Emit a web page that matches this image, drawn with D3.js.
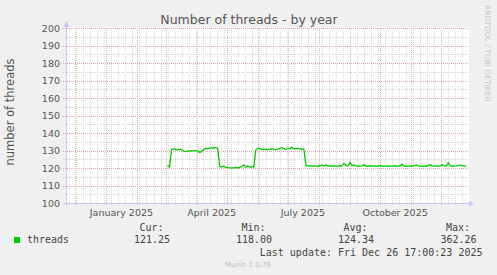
<!DOCTYPE html>
<html>
<head>
<meta charset="utf-8">
<script src="https://cdn.jsdelivr.net/npm/d3@7"></script>
<style>
  body { margin: 0; background: #f0f0f0; }
  svg { display: block; }
</style>
</head>
<body>
<div id="chart"></div>
<script>
const svgwidth = 497;
const svgheight = 275;

// time window of the graph (400 days up to last update)
var startTime = new Date(2024, 10, 21, 17, 0);
var endTime = new Date(2025, 11, 26, 17, 0);

// first sample and spacing of the samples below
var firstSample = new Date(2025, 2, 3);
var stepDays = 2;

// number of threads, one value every 2 days
var threads = [
  121.4, 120.5, 130.6, 131.0, 130.6, 130.2, 130.8, 130.5, 129.6, 129.4,
  129.8, 129.6, 129.9, 129.7, 130.1, 129.8, 128.9, 129.5, 130.6, 131.2,
  131.0, 131.4, 131.6, 131.3, 131.8, 131.2, 121.0, 120.6, 121.2, 120.4,
  120.2, 120.1, 120.0, 120.1, 120.3, 120.0, 120.3, 121.0, 121.8, 120.5,
  121.3, 120.4, 120.8, 120.5, 130.2, 131.3, 131.0, 130.8, 130.6, 130.6,
  130.5, 130.8, 131.0, 130.6, 130.5, 130.8, 131.0, 131.7, 131.0, 130.7,
  131.2, 131.0, 131.8, 131.0, 130.9, 131.3, 130.8, 130.9, 130.7, 121.6,
  121.1, 121.3, 121.0, 121.2, 121.1, 121.0, 121.3, 121.8, 121.2, 121.7,
  121.1, 121.3, 121.0, 121.2, 121.1, 121.0, 121.3, 121.2, 122.6, 121.3,
  121.1, 123.2, 121.4, 121.8, 121.2, 121.0, 121.1, 121.2, 121.8, 121.1,
  121.0, 121.3, 121.1, 121.2, 121.0, 121.1, 121.3, 121.0, 121.2, 121.1,
  121.0, 121.2, 121.1, 121.3, 121.0, 121.1, 121.4, 122.1, 121.2, 121.0,
  121.1, 121.2, 121.0, 121.3, 121.8, 121.2, 121.0, 121.1, 121.2, 121.0,
  121.5, 121.9, 121.2, 121.1, 121.3, 121.0, 121.2, 121.9, 121.3, 121.1,
  123.0, 121.2, 121.0, 121.1, 121.2, 121.4, 121.8, 121.2, 121.1, 121.25
];

// axis labels
var yTicks = [100, 110, 120, 130, 140, 150, 160, 170, 180, 190, 200];
var xLabels = ["January 2025", "April 2025", "July 2025", "October 2025"];
var xLabelDates = [new Date(2025, 0, 16), new Date(2025, 3, 16), new Date(2025, 6, 16), new Date(2025, 9, 16)];

// legend
var legendHeads = ["Cur:", "Min:", "Avg:", "Max:"];
var legendValues = ["121.25", "118.00", "124.34", "362.26"];
var lastUpdate = "Last update: Fri Dec 26 17:00:23 2025";

var margin = {top: 28, right: 30, bottom: 72, left: 66};
var width = svgwidth - margin.left - margin.right;
var height = svgheight - margin.top - margin.bottom;

var svg = d3.select("#chart")
  .append("svg")
  .attr("width", svgwidth)
  .attr("height", svgheight)
  .style("font-family", "'DejaVu Sans', sans-serif");

var x = d3.scaleTime()
  .domain([startTime, endTime])
  .range([margin.left, margin.left + width]);

var y = d3.scaleLinear()
  .domain([100, 200])
  .range([margin.top + height, margin.top]);

var px = v => Math.round(v) + 0.5;
var x0 = margin.left, x1 = margin.left + width + 1;
var yTop = margin.top, yBot = margin.top + height;

// plot background
svg.append("rect")
  .attr("x", x0)
  .attr("y", yTop - 1)
  .attr("width", x1 - x0 + 1)
  .attr("height", yBot - yTop + 1)
  .attr("fill", "#ffffff");

var grid = svg.append("g").attr("shape-rendering", "crispEdges");

// minor grid: every 5 threads and every week
var minorY = y.ticks(20).filter(v => yTicks.indexOf(v) < 0);
grid.selectAll(".hminor")
  .data(minorY)
  .enter()
  .append("line")
  .attr("x1", x0 - 3).attr("x2", x1)
  .attr("y1", d => px(y(d))).attr("y2", d => px(y(d)))
  .attr("stroke", "#d2d2d2")
  .attr("stroke-dasharray", "1,1");

grid.selectAll(".vminor")
  .data(d3.timeMonday.range(startTime, endTime))
  .enter()
  .append("line")
  .attr("x1", d => px(x(d))).attr("x2", d => px(x(d)))
  .attr("y1", yTop).attr("y2", yBot + 3)
  .attr("stroke", "#dadada")
  .attr("stroke-dasharray", "1,1");

// major grid: every 10 threads and every month
grid.selectAll(".hmajor")
  .data(yTicks)
  .enter()
  .append("line")
  .attr("x1", x0 - 3).attr("x2", x1)
  .attr("y1", d => px(y(d))).attr("y2", d => px(y(d)))
  .attr("stroke", "#e8a4a4")
  .attr("stroke-dasharray", "1,1");

grid.selectAll(".vmajor")
  .data(d3.timeMonth.range(startTime, endTime))
  .enter()
  .append("line")
  .attr("x1", d => px(x(d))).attr("x2", d => px(x(d)))
  .attr("y1", yTop).attr("y2", yBot + 3)
  .attr("stroke", "#ebb2b2")
  .attr("stroke-dasharray", "1,1");

// axes lines with arrows
var axisColor = "#c8c8f4";
grid.append("line")
  .attr("x1", x0 - 3).attr("x2", x1 + 2)
  .attr("y1", px(yBot)).attr("y2", px(yBot))
  .attr("stroke", axisColor);
grid.append("line")
  .attr("x1", px(x0)).attr("x2", px(x0))
  .attr("y1", yBot + 3).attr("y2", yTop - 4)
  .attr("stroke", axisColor);
svg.append("path")
  .attr("d", `M${x0 - 2.5},${yTop - 1}L${x0 + 3.5},${yTop - 1}L${x0 + 0.5},${yTop - 7}Z`)
  .attr("fill", axisColor);
svg.append("path")
  .attr("d", `M${x1 + 1},${yBot - 2.5}L${x1 + 1},${yBot + 3.5}L${x1 + 6},${yBot + 0.5}Z`)
  .attr("fill", axisColor);

// the threads line
var line = d3.line()
  .x((d, i) => x(d3.timeDay.offset(firstSample, i * stepDays)))
  .y(d => y(d));

svg.append("path")
  .datum(threads)
  .attr("d", line)
  .attr("fill", "none")
  .attr("stroke", "#00cc00")
  .attr("stroke-width", 1.3);

// tick labels
svg.selectAll(".ylab")
  .data(yTicks)
  .enter()
  .append("text")
  .attr("x", x0 - 6)
  .attr("y", d => y(d) + 3.5)
  .attr("text-anchor", "end")
  .attr("font-size", "9.5px")
  .attr("fill", "#555")
  .text(d => d);

svg.selectAll(".xlab")
  .data(xLabels)
  .enter()
  .append("text")
  .attr("x", (d, i) => x(xLabelDates[i]))
  .attr("y", yBot + 13)
  .attr("text-anchor", "middle")
  .attr("font-size", "9.5px")
  .attr("fill", "#555")
  .text(d => d);

// title and axis title
svg.append("text")
  .attr("x", 249)
  .attr("y", 24)
  .attr("text-anchor", "middle")
  .attr("font-size", "12.5px")
  .attr("fill", "#555")
  .text("Number of threads - by year");

svg.append("text")
  .attr("transform", "translate(14,112) rotate(-90)")
  .attr("text-anchor", "middle")
  .attr("font-size", "11.5px")
  .attr("fill", "#555")
  .text("number of threads");

// watermark on the right
svg.append("text")
  .attr("transform", "translate(485,5) rotate(90)")
  .attr("font-size", "7.5px")
  .attr("fill", "#c8c8c8")
  .text("RRDTOOL / TOBI OETIKER");

// legend
var mono = "'DejaVu Sans Mono', monospace";
svg.append("rect")
  .attr("x", 14).attr("y", 237)
  .attr("width", 6).attr("height", 6)
  .attr("fill", "#00cc00");

svg.append("text")
  .attr("x", 27).attr("y", 243)
  .attr("font-family", mono)
  .attr("font-size", "10px")
  .attr("fill", "#444")
  .text("threads");

var colRight = [170, 272, 374, 476.5];
svg.selectAll(".lhead")
  .data(legendHeads)
  .enter()
  .append("text")
  .attr("x", (d, i) => colRight[i] - 6.5)
  .attr("y", 230.5)
  .attr("text-anchor", "end")
  .attr("font-family", mono)
  .attr("font-size", "10px")
  .attr("fill", "#444")
  .text(d => d);

svg.selectAll(".lval")
  .data(legendValues)
  .enter()
  .append("text")
  .attr("x", (d, i) => colRight[i])
  .attr("y", 243)
  .attr("text-anchor", "end")
  .attr("font-family", mono)
  .attr("font-size", "10px")
  .attr("fill", "#444")
  .text(d => d);

svg.append("text")
  .attr("x", 482.5).attr("y", 255.5)
  .attr("text-anchor", "end")
  .attr("font-family", mono)
  .attr("font-size", "10px")
  .attr("fill", "#444")
  .text(lastUpdate);

svg.append("text")
  .attr("x", 248).attr("y", 266.5)
  .attr("text-anchor", "middle")
  .attr("font-size", "7px")
  .attr("fill", "#c0c0c0")
  .text("Munin 2.0.76");
</script>
</body>
</html>
